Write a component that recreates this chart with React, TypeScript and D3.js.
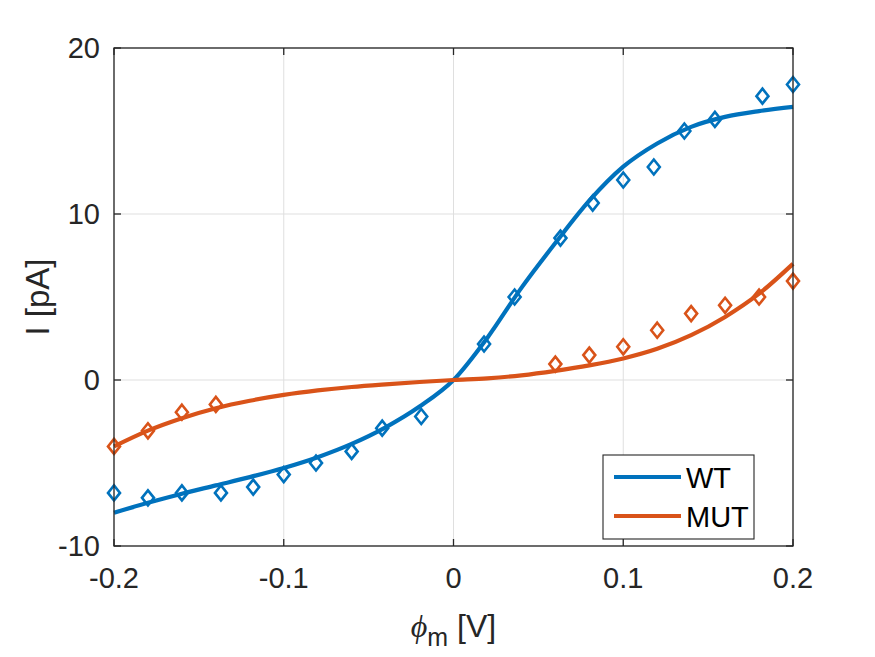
import React from "react";
import * as d3 from "d3";

// Measured current points
const wtX = [-0.2, -0.18, -0.16, -0.137, -0.118, -0.1, -0.081, -0.06, -0.042, -0.019, 0.018, 0.036, 0.063, 0.082, 0.1, 0.118, 0.136, 0.154, 0.182, 0.2];
const wtY = [-6.8, -7.1, -6.8, -6.8, -6.45, -5.7, -5.0, -4.3, -2.9, -2.2, 2.17, 5.0, 8.55, 10.66, 12.05, 12.83, 15.0, 15.7, 17.1, 17.8];
const mutX = [-0.2, -0.18, -0.16, -0.14, 0.06, 0.08, 0.1, 0.12, 0.14, 0.16, 0.18, 0.2];
const mutY = [-4.0, -3.06, -1.94, -1.47, 0.96, 1.5, 2.0, 3.0, 4.0, 4.5, 5.0, 5.96];

// Fitted model curves, sampled every 20 mV
const fitX = [-0.2, -0.18, -0.16, -0.14, -0.12, -0.1, -0.08, -0.06, -0.04, -0.02, 0, 0.02, 0.04, 0.06, 0.08, 0.1, 0.12, 0.14, 0.16, 0.18, 0.2];
const wtFit = [-8.0, -7.4, -6.85, -6.35, -5.85, -5.3, -4.65, -3.85, -2.85, -1.6, 0, 2.55, 5.55, 8.25, 10.8, 12.85, 14.25, 15.25, 15.85, 16.2, 16.45];
const mutFit = [-4.0, -3.05, -2.3, -1.7, -1.25, -0.9, -0.63, -0.42, -0.26, -0.12, 0, 0.1, 0.28, 0.55, 0.88, 1.3, 1.88, 2.7, 3.8, 5.2, 7.0];

const xTicks = [-0.2, -0.1, 0, 0.1, 0.2];
const yTicks = [-10, 0, 10, 20];
const seriesNames = ["WT", "MUT"];

const BLUE = "#0072BD";
const ORANGE = "#D95319";
const AXIS = "#262626";
const FONT = "'Liberation Sans', Arial, Helvetica, sans-serif";

export default function App() {
  const W = 875, H = 657;
  const L = 114, R = 793, T = 48, B = 546;
  const x = d3.scaleLinear().domain([-0.2, 0.2]).range([L, R]);
  const y = d3.scaleLinear().domain([-10, 20]).range([B, T]);
  const line = d3
    .line<number>()
    .x((_, i) => x(fitX[i]))
    .y((d) => y(d))
    .curve(d3.curveMonotoneX);

  const diamond = (cx: number, cy: number, key: string, color: string) => {
    const r = 7.5;
    const w = 6;
    return (
      <path
        key={key}
        d={`M${cx},${cy - r}L${cx + w},${cy}L${cx},${cy + r}L${cx - w},${cy}Z`}
        fill="none"
        stroke={color}
        strokeWidth={2.6}
      />
    );
  };

  const tickLen = 7;
  const fs = 29;

  return (
    <svg width={W} height={H} style={{ display: "block", position: "absolute", left: 0, top: 0 }} fontFamily={FONT}>
      <rect width={W} height={H} fill="#fff" />
      {/* grid */}
      {xTicks.map((t) => (
        <line key={"gx" + t} x1={x(t)} x2={x(t)} y1={T} y2={B} stroke="#dfdfdf" strokeWidth={1} />
      ))}
      {yTicks.map((t) => (
        <line key={"gy" + t} x1={L} x2={R} y1={y(t)} y2={y(t)} stroke="#dfdfdf" strokeWidth={1} />
      ))}
      {/* fitted curves */}
      <path d={line(wtFit) || ""} fill="none" stroke={BLUE} strokeWidth={4.2} />
      <path d={line(mutFit) || ""} fill="none" stroke={ORANGE} strokeWidth={4.2} />
      {/* data markers */}
      {wtX.map((v, i) => diamond(x(v), y(wtY[i]), "w" + i, BLUE))}
      {mutX.map((v, i) => diamond(x(v), y(mutY[i]), "m" + i, ORANGE))}
      {/* axes box */}
      <rect x={L} y={T} width={R - L} height={B - T} fill="none" stroke={AXIS} strokeWidth={1.3} />
      {xTicks.map((t) => (
        <g key={"tx" + t}>
          <line x1={x(t)} x2={x(t)} y1={B} y2={B - tickLen} stroke={AXIS} strokeWidth={1.3} />
          <line x1={x(t)} x2={x(t)} y1={T} y2={T + tickLen} stroke={AXIS} strokeWidth={1.3} />
          <text x={x(t)} y={B + 42} fontSize={fs} textAnchor="middle" fill={AXIS}>
            {t === 0 ? "0" : d3.format(".1f")(t).replace("−", "-")}
          </text>
        </g>
      ))}
      {yTicks.map((t) => (
        <g key={"ty" + t}>
          <line x1={L} x2={L + tickLen} y1={y(t)} y2={y(t)} stroke={AXIS} strokeWidth={1.3} />
          <line x1={R} x2={R - tickLen} y1={y(t)} y2={y(t)} stroke={AXIS} strokeWidth={1.3} />
          <text x={L - 14} y={y(t) + 10} fontSize={fs} textAnchor="end" fill={AXIS}>
            {String(t)}
          </text>
        </g>
      ))}
      {/* axis labels */}
      <text transform={`translate(49,${(T + B) / 2}) rotate(-90)`} fontSize={33} textAnchor="middle" fill={AXIS}>
        I [pA]
      </text>
      <text x={(L + R) / 2} y={637} fontSize={32} textAnchor="middle" fill={AXIS}>
        <tspan fontStyle="italic" fontFamily="'Liberation Serif', 'DejaVu Serif', serif">ϕ</tspan>
        <tspan fontSize={25} dy={9}>m</tspan>
        <tspan dy={-9}> [V]</tspan>
      </text>
      {/* legend */}
      <rect x={603} y={455} width={151} height={84} fill="#fff" stroke={AXIS} strokeWidth={1.1} />
      {seriesNames.map((n, i) => {
        const ly = 477 + i * 39;
        return (
          <g key={n}>
            <line x1={614} x2={681} y1={ly} y2={ly} stroke={i === 0 ? BLUE : ORANGE} strokeWidth={4.2} />
            <text x={686} y={ly + 11} fontSize={fs} fill="#000">
              {n}
            </text>
          </g>
        );
      })}
    </svg>
  );
}
